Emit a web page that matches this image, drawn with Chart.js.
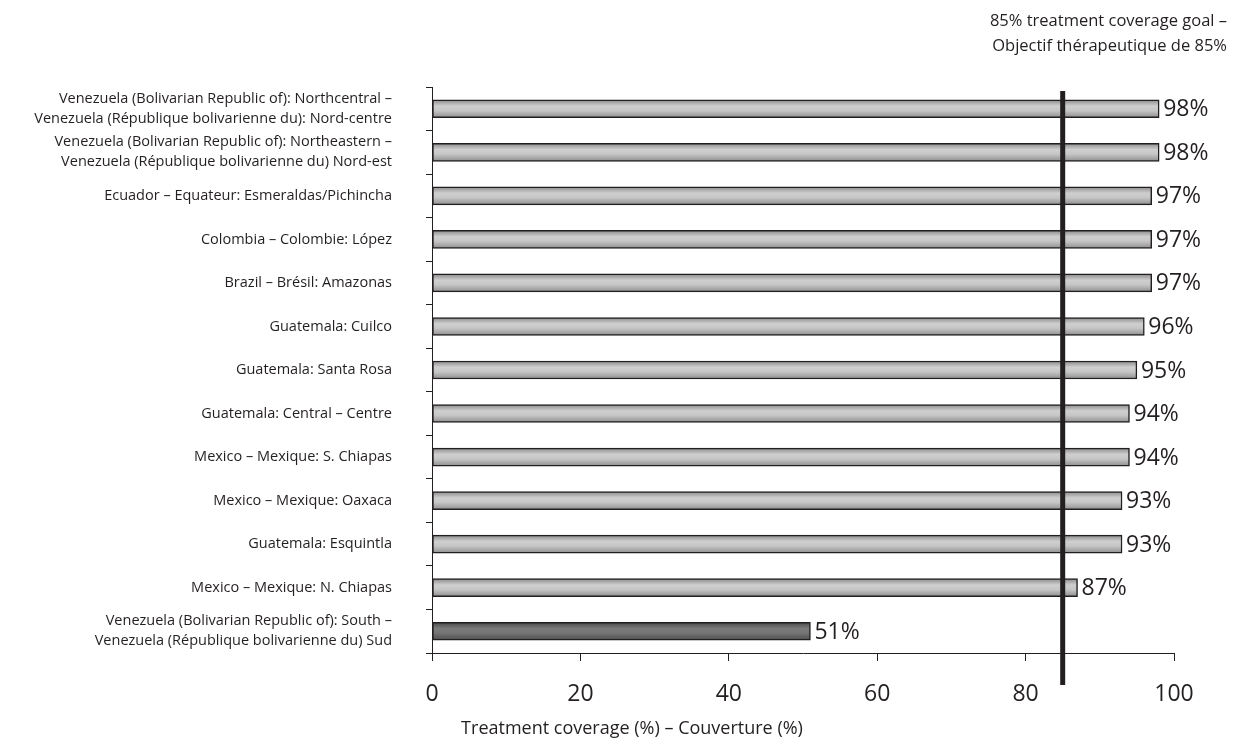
<!DOCTYPE html>
<html>
<head>
<meta charset="utf-8">
<script src="https://cdn.jsdelivr.net/npm/chart.js@4.4.1/dist/chart.umd.min.js"></script>
<style>
  html, body { margin: 0; padding: 0; background: #fff; }
  #wrap { width: 1237px; height: 740px; }
</style>
</head>
<body>
<div id="wrap"><canvas id="coverageChart"></canvas></div>
<script>
// Zonas (etiquetas de categorias, dos lineas cuando hace falta)
const regions = [
    ['Venezuela (Bolivarian Republic of): Northcentral –', 'Venezuela (République bolivarienne du): Nord-centre'],
    ['Venezuela (Bolivarian Republic of): Northeastern –', 'Venezuela (République bolivarienne du) Nord-est'],
    'Ecuador – Equateur: Esmeraldas/Pichincha',
    'Colombia – Colombie: López',
    'Brazil – Brésil: Amazonas',
    'Guatemala: Cuilco',
    'Guatemala: Santa Rosa',
    'Guatemala: Central – Centre',
    'Mexico – Mexique: S. Chiapas',
    'Mexico – Mexique: Oaxaca',
    'Guatemala: Esquintla',
    'Mexico – Mexique: N. Chiapas',
    ['Venezuela (Bolivarian Republic of): South –', 'Venezuela (République bolivarienne du) Sud']
];
const coverage = [98, 98, 97, 97, 97, 96, 95, 94, 94, 93, 93, 87, 51];
const goalValue = 85;
const goalLabel = ['85% treatment coverage goal –', 'Objectif thérapeutique de 85%'];
const xTickValues = [0, 20, 40, 60, 80, 100];
const xTitle = 'Treatment coverage (%) – Couverture (%)';

const FONT = "'Open Sans', sans-serif";

// Degradado vertical para cada barra
function barGradient(context) {
    const chart = context.chart;
    const yScale = chart.scales.y;
    const low = coverage[context.dataIndex] < goalValue;
    const flat = low ? '#6a6a6a' : '#c0c0c0';
    if (!yScale || context.dataIndex === undefined) return flat;
    const yc = yScale.getPixelForValue(context.dataIndex);
    if (!Number.isFinite(yc)) return flat;
    const g = chart.ctx.createLinearGradient(0, yc - 9, 0, yc + 9);
    if (low) {
        g.addColorStop(0, '#4a4a4a');
        g.addColorStop(0.35, '#7c7c7c');
        g.addColorStop(0.6, '#747474');
        g.addColorStop(1, '#4e4e4e');
    } else {
        g.addColorStop(0, '#8a8a8a');
        g.addColorStop(0.35, '#cfcfcf');
        g.addColorStop(0.6, '#c6c6c6');
        g.addColorStop(1, '#8e8e8e');
    }
    return g;
}

// Linea de objetivo, etiquetas de valores y titulo del eje x
const goalPlugin = {
    id: 'goalPlugin',
    afterDatasetsDraw(chart) {
        const ctx = chart.ctx;
        const area = chart.chartArea;
        const x = chart.scales.x.getPixelForValue(goalValue);
        ctx.save();
        ctx.strokeStyle = '#231f20';
        ctx.lineWidth = 5;
        ctx.beginPath();
        ctx.moveTo(x, area.top + 4);
        ctx.lineTo(x, area.bottom + 32);
        ctx.stroke();

        ctx.fillStyle = '#231f20';
        ctx.font = '23px ' + FONT;
        ctx.textAlign = 'left';
        ctx.textBaseline = 'middle';
        chart.getDatasetMeta(0).data.forEach((bar, i) => {
            ctx.fillText(coverage[i] + '%', bar.x + 4, bar.y + 1);
        });

        ctx.font = '16.5px ' + FONT;
        ctx.textAlign = 'right';
        ctx.textBaseline = 'alphabetic';
        ctx.fillText(goalLabel[0], 1227, 26);
        ctx.fillText(goalLabel[1], 1227, 51);

        // titulo del eje, desplazado a la izquierda como en el original
        ctx.font = '18px ' + FONT;
        ctx.textAlign = 'center';
        ctx.textBaseline = 'middle';
        ctx.fillText(xTitle, 632, 729);
        ctx.restore();
    }
};

const ctx = document.getElementById('coverageChart').getContext('2d');
const coverageChart = new Chart(ctx, {
    type: 'bar',
    data: {
        labels: regions,
        datasets: [{
            label: 'Treatment coverage',
            data: coverage,
            backgroundColor: barGradient,
            borderColor: '#231f20',
            borderWidth: 1.5,
            borderSkipped: false,
            barThickness: 18
        }]
    },
    options: {
        indexAxis: 'y',
        responsive: true,
        maintainAspectRatio: false,
        animation: false,
        layout: { padding: { top: 87, right: 63, bottom: 0, left: 0 } },
        plugins: {
            legend: { display: false },
            tooltip: { enabled: false }
        },
        scales: {
            x: {
                min: 0,
                max: 100,
                afterBuildTicks: s => { s.ticks = xTickValues.map(v => ({ value: v })); },
                afterFit: s => { s.height = 87; },
                grid: {
                    drawOnChartArea: false,
                    drawTicks: true,
                    tickLength: 8,
                    color: '#231f20',
                    lineWidth: 1
                },
                border: { display: true, color: '#231f20', width: 1 },
                ticks: {
                    color: '#231f20',
                    font: { family: FONT, size: 23 },
                    padding: 20
                }
            },
            y: {
                afterFit: s => { s.width = 432; },
                grid: {
                    drawOnChartArea: false,
                    drawTicks: true,
                    tickLength: 6,
                    offset: true,
                    color: '#231f20',
                    lineWidth: 1
                },
                border: { display: true, color: '#231f20', width: 1 },
                ticks: {
                    color: '#231f20',
                    font: { family: FONT, size: 14.5, lineHeight: 1.38 },
                    padding: 34,
                    autoSkip: false
                }
            }
        }
    },
    plugins: [goalPlugin]
});
</script>
</body>
</html>
